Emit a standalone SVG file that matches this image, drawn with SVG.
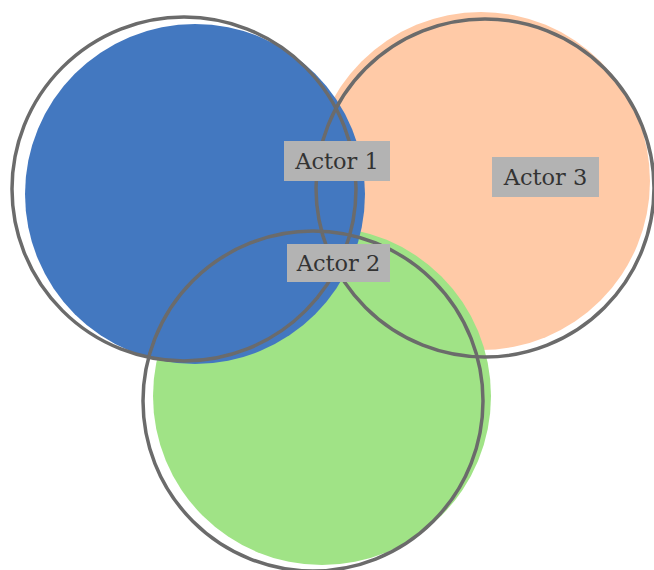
<svg xmlns="http://www.w3.org/2000/svg" width="654" height="570" viewBox="0 0 654 570">
  <style>
    .ring { fill: none; stroke: #6b6b6b; stroke-width: 3.5; }
    .tag { fill: #b3b3b3; }
    .lbl { font-family: "DejaVu Serif", "Liberation Serif", serif; font-size: 22.5px; fill: #333333; text-anchor: middle; }
  </style>
  <rect width="654" height="570" fill="#ffffff"/>
  <!-- filled discs, back to front -->
  <g id="actor3">
    <circle cx="481" cy="181" r="169" fill="#ffcaa7"/>
  </g>
  <g id="actor2">
    <circle cx="322" cy="396" r="169" fill="#a0e386"/>
  </g>
  <g id="actor1">
    <circle cx="195" cy="194" r="170" fill="#4378c0"/>
  </g>
  <!-- sketchy outlines -->
  <g id="outlines">
    <circle class="ring" cx="184" cy="189" r="172"/>
    <circle class="ring" cx="485" cy="188" r="169"/>
    <circle class="ring" cx="313" cy="401" r="170"/>
  </g>
  <!-- labels -->
  <g id="label-actor1">
    <rect class="tag" x="284" y="141" width="106" height="40"/>
    <text class="lbl" x="337" y="169">Actor 1</text>
  </g>
  <g id="label-actor2">
    <rect class="tag" x="287" y="244" width="103" height="38"/>
    <text class="lbl" x="338.5" y="271">Actor 2</text>
  </g>
  <g id="label-actor3">
    <rect class="tag" x="492" y="157" width="107" height="40"/>
    <text class="lbl" x="545.5" y="185">Actor 3</text>
  </g>
</svg>
